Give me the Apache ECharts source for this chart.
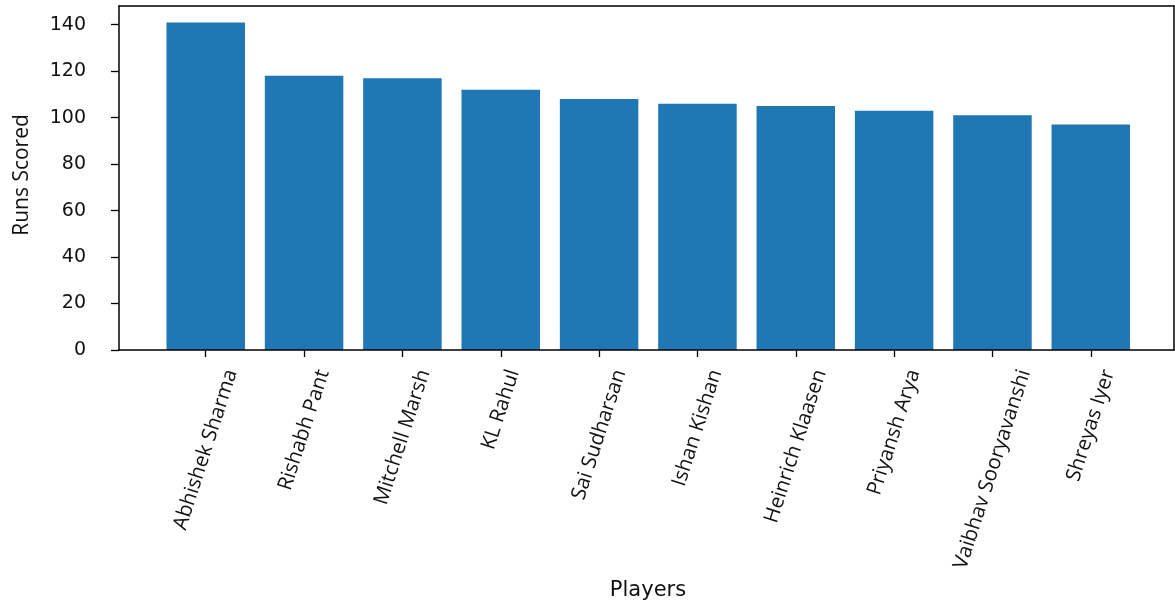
<!DOCTYPE html>
<html>
<head>
<meta charset="utf-8">
<script src="https://cdn.jsdelivr.net/npm/echarts@6/dist/echarts.min.js"></script>
<style>
  html, body { margin: 0; padding: 0; background: #ffffff; }
  #chart { width: 1175px; height: 605px; }
</style>
</head>
<body>
<div id="chart"></div>
<script>
// Highest individual scores by player
const players = [
  'Abhishek Sharma', 'Rishabh Pant', 'Mitchell Marsh', 'KL Rahul', 'Sai Sudharsan',
  'Ishan Kishan', 'Heinrich Klaasen', 'Priyansh Arya', 'Vaibhav Sooryavanshi', 'Shreyas Iyer'
];
const runs = [141, 118, 117, 112, 108, 106, 105, 103, 101, 97];
const yTicks = [0, 20, 40, 60, 80, 100, 120, 140];

const xAxisTitle = 'Players';
const yAxisTitle = 'Runs Scored';

const BAR_COLOR = '#1f77b4';
const LABEL_FONT = '20.5px "Open Sans"';
const LABEL_SIZE = 20.5;
const LABEL_ROT = 72;        // degrees, counter-clockwise
const LABEL_TOP = 367;       // top edge of the rotated label boxes

const positions = players.map((_, i) => i);
const xMin = -0.882, xMax = 9.846;
const yMax = Math.max(...runs) * 1.05;

// frame lines sit on the grid edges, never on the zero of the other axis
const spine = { show: true, onZero: false, lineStyle: { color: '#000', width: 1.5 } };

const chart = echarts.init(document.getElementById('chart'), null, { renderer: 'canvas' });

chart.setOption({
  animation: false,
  backgroundColor: '#ffffff',
  grid: { left: 119, right: 1, top: 6, bottom: 255, show: false },
  xAxis: [
    {
      type: 'value', min: xMin, max: xMax, position: 'bottom', z: 5,
      axisLine: spine,
      axisTick: { show: true, length: 7, customValues: positions, lineStyle: { color: '#000', width: 1.3 } },
      axisLabel: { show: false },
      splitLine: { show: false }
    },
    {
      type: 'value', min: xMin, max: xMax, position: 'top', z: 5,
      axisLine: spine, axisTick: { show: false }, axisLabel: { show: false }, splitLine: { show: false }
    }
  ],
  yAxis: [
    {
      type: 'value', min: 0, max: yMax, position: 'left', z: 5,
      axisLine: spine,
      axisTick: { show: true, length: 8, customValues: yTicks, lineStyle: { color: '#000', width: 1.3 } },
      axisLabel: {
        show: true, customValues: yTicks, margin: 33,
        fontFamily: 'DejaVu Sans', fontSize: 19, color: '#111'
      },
      splitLine: { show: false }
    },
    {
      type: 'value', min: 0, max: yMax, position: 'right', z: 5,
      axisLine: spine, axisTick: { show: false }, axisLabel: { show: false }, splitLine: { show: false }
    }
  ],
  series: [
    {
      type: 'bar',
      xAxisIndex: 0,
      yAxisIndex: 0,
      barWidth: 78.5,
      itemStyle: { color: BAR_COLOR },
      data: runs.map((v, i) => [positions[i], v])
    }
  ]
});

// Rotated category labels: each label's bounding box is centred under its tick.
const measureCtx = document.createElement('canvas').getContext('2d');
measureCtx.font = LABEL_FONT;
const theta = LABEL_ROT * Math.PI / 180;

const labelGraphics = players.map((name, i) => {
  const px = chart.convertToPixel({ xAxisIndex: 0 }, positions[i]);
  const len = measureCtx.measureText(name).width;
  const boxH = len * Math.sin(theta) + LABEL_SIZE * Math.cos(theta);
  return {
    type: 'text',
    x: px,
    y: LABEL_TOP + boxH / 2,
    rotation: theta,
    silent: true,
    style: {
      text: name, font: LABEL_FONT, fill: '#111',
      align: 'center', verticalAlign: 'middle'
    }
  };
});

chart.setOption({
  graphic: labelGraphics.concat([
    {
      type: 'text', x: 648, y: 591, silent: true,
      style: { text: xAxisTitle, font: '21px "DejaVu Sans"', fill: '#111', align: 'center', verticalAlign: 'middle' }
    },
    {
      type: 'text', x: 22, y: 175, rotation: Math.PI / 2, silent: true,
      style: { text: yAxisTitle, font: '21px "Open Sans"', fill: '#111', align: 'center', verticalAlign: 'middle' }
    }
  ])
});
</script>
</body>
</html>
